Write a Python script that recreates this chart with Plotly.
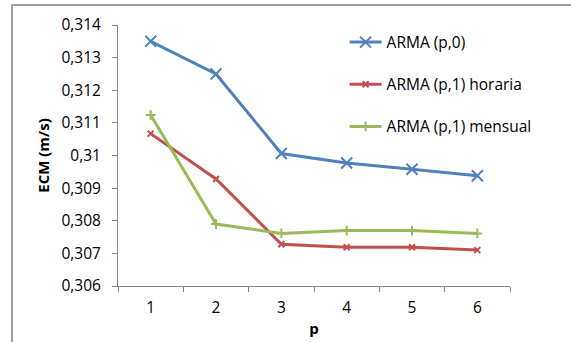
import plotly.graph_objects as go

# Error cuadrático medio por orden p de cada modelo
p_values = ["1", "2", "3", "4", "5", "6"]
arma_p0 = [0.3135, 0.3125, 0.31006, 0.30977, 0.30958, 0.30938]
arma_p1_horaria = [0.31067, 0.30928, 0.30728, 0.30719, 0.30719, 0.30710]
arma_p1_mensual = [0.31124, 0.30790, 0.30761, 0.30770, 0.30770, 0.30761]

y_ticks = [0.306, 0.307, 0.308, 0.309, 0.31, 0.311, 0.312, 0.313, 0.314]
y_tick_labels = ["0,306", "0,307", "0,308", "0,309", "0,31", "0,311", "0,312", "0,313", "0,314"]

FONT = "'Open Sans', sans-serif"

fig = go.Figure()
series = [
    ("ARMA (p,0)", arma_p0, "#4F81BD", "x-thin", 11, 2),
    ("ARMA (p,1) horaria", arma_p1_horaria, "#C0504D", "x-thin", 6, 2),
    ("ARMA (p,1) mensual", arma_p1_mensual, "#9BBB59", "cross-thin", 7, 2),
]
for i, (name, vals, color, sym, size, lw) in enumerate(series):
    fig.add_trace(go.Scatter(
        x=p_values, y=vals, name=name, mode="lines+markers",
        line=dict(color=color, width=3),
        marker=dict(symbol=sym, size=size, line=dict(color=color, width=lw)),
        legendgroup=f"g{i}",
    ))

fig.update_layout(
    width=571, height=342,
    margin=dict(l=118, r=61, t=25, b=56),
    paper_bgcolor="white", plot_bgcolor="white",
    font=dict(family=FONT, size=15.5, color="black"),
    showlegend=True,
    legend=dict(x=0.578, y=0.998, xanchor="left", yanchor="top",
                bgcolor="rgba(0,0,0,0)", font=dict(size=15.5),
                tracegroupgap=19, itemwidth=32),
    xaxis=dict(
        type="category", range=[-0.5, len(p_values) - 0.5],
        showgrid=False, showline=True, linecolor="#868686",
        linewidth=1, ticks="outside", tickson="boundaries", ticklen=5,
        tickcolor="#868686", zeroline=False, ticklabelstandoff=7,
        automargin=False,
        title=dict(text="<b>p</b>", font=dict(size=15), standoff=6),
    ),
    yaxis=dict(
        range=[0.306, 0.314], showgrid=False, showline=True, linecolor="#868686",
        linewidth=1, ticks="outside", ticklen=5, tickcolor="#868686",
        tickvals=y_ticks, ticktext=y_tick_labels, zeroline=False,
        ticklabelstandoff=8, automargin=False,
        title=dict(text="<b>ECM (m/s)</b>", font=dict(size=15), standoff=8),
    ),
    shapes=[dict(type="rect", xref="paper", yref="paper",
                 x0=-106 / 392, x1=1.5, y0=-1, y1=1 + 20 / 261,
                 line=dict(color="#A0A0A0", width=2), fillcolor="rgba(0,0,0,0)")],
)

fig.write_html("out.html")
